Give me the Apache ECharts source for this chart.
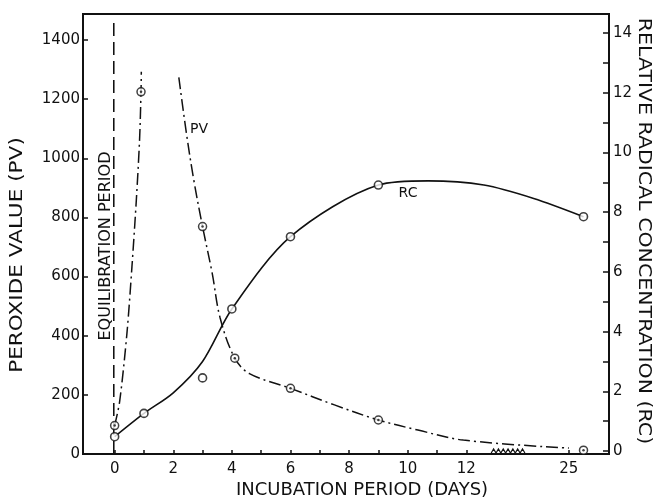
<!DOCTYPE html>
<html>
<head>
<meta charset="utf-8">
<script src="https://cdn.jsdelivr.net/npm/echarts@6/dist/echarts.min.js"></script>
<style>
  html, body { margin: 0; padding: 0; background: #fff; }
  #chart { width: 654px; height: 501px; }
</style>
</head>
<body>
<div id="chart"></div>
<script>
// Measured peroxide values (PV) and relative radical concentrations (RC)
const pvDays   = [0, 0.9, 3, 4.1, 6, 9, 25.5];
const pvValues = [96, 1225, 769, 324, 222, 115, 13];
const rcDays   = [0, 1, 3, 4, 6, 9, 25.5];
const rcValues = [0.48, 1.26, 2.45, 4.76, 7.18, 8.91, 7.85];

// Hand-drawn trend curves through the measurements
const pvRiseDays   = [0, 0.17, 0.42, 0.59, 0.74, 0.85, 0.9, 0.91];
const pvRiseValues = [96, 177, 409, 633, 859, 1062, 1225, 1293];
const pvFallDays   = [2.19, 2.45, 2.7, 3, 3.33, 3.6, 4.1, 4.6, 6, 7.5, 9, 10.35, 11.9, 25];
const pvFallValues = [1274, 1084, 927, 769, 611, 460, 324, 272, 222, 166, 115, 81, 47, 20];
const rcFitDays    = [0, 1, 2, 3, 4, 6, 9, 10.7, 12.6, 23.8, 25.5];
const rcFitValues  = [0.48, 1.26, 1.95, 3.0, 4.76, 7.18, 8.91, 9.05, 8.91, 8.46, 7.85];

// Equilibration period marker (day, PV range)
const equilDay = [-0.03, -0.03];
const equilPv  = [0, 1468];

// Axis ticks and labels
const xTickDays  = [0, 1, 2, 3, 4, 5, 6, 7, 8, 9, 10, 11, 12, 25];
const xLabelDays = [0, 2, 4, 6, 8, 10, 12, 25];
const pvTicks    = [0, 200, 400, 600, 800, 1000, 1200, 1400];
const rcTicks    = [0, 1, 2, 3, 4, 5, 6, 7, 8, 9, 10, 11, 12, 13, 14];
const rcLabels   = [0, 2, 4, 6, 8, 10, 12, 14];

// Broken time axis: days 12.85..23.5 are squeezed into a short gap
const BREAK_FROM = 12.85, BREAK_TO = 23.5, BREAK_GAP = 1.15;
function toAxis(day) {
  if (day <= BREAK_FROM) return day;
  if (day >= BREAK_TO) return day - (BREAK_TO - BREAK_FROM) + BREAK_GAP;
  return BREAK_FROM + (day - BREAK_FROM) / (BREAK_TO - BREAK_FROM) * BREAK_GAP;
}
const pairs = (xs, ys) => xs.map((d, i) => [toAxis(d), ys[i]]);

const FONT = 'DejaVu Sans';
const INK = '#111';
const dashDot = [12, 4, 2, 4];

const chart = echarts.init(document.getElementById('chart'), null, { renderer: 'canvas' });

const xLabelPos = xLabelDays.map(toAxis);

chart.setOption({
  animation: false,
  backgroundColor: '#fff',
  grid: { left: 83, right: 45, top: 14, bottom: 47, show: true, borderColor: INK, borderWidth: 2, backgroundColor: 'transparent' },
  xAxis: {
    type: 'value', min: -1.08, max: 16.87,
    splitLine: { show: false },
    axisLine: { show: true, onZero: false, lineStyle: { color: INK, width: 2 } },
    axisTick: { show: true, inside: true, length: 4, lineStyle: { color: INK, width: 1.5 },
                customValues: xTickDays.map(toAxis) },
    axisLabel: { show: true, color: INK, fontFamily: FONT, fontSize: 15, margin: 8,
                 customValues: xLabelPos,
                 formatter: v => {
                   const i = xLabelPos.findIndex(p => Math.abs(p - v) < 1e-6);
                   return i >= 0 ? String(xLabelDays[i]) : '';
                 } }
  },
  yAxis: [
    {
      type: 'value', min: 0, max: 1488, position: 'left',
      splitLine: { show: false },
      axisLine: { show: true, onZero: false, lineStyle: { color: INK, width: 2 } },
      axisTick: { show: true, inside: true, length: 5, lineStyle: { color: INK, width: 1.5 }, customValues: pvTicks },
      axisLabel: { show: true, color: INK, fontFamily: FONT, fontSize: 15, margin: 3,
                   padding: [0, 0, 10, 0], customValues: pvTicks, formatter: v => String(v) }
    },
    {
      type: 'value', min: -0.1, max: 14.64, position: 'right',
      splitLine: { show: false },
      axisLine: { show: true, onZero: false, lineStyle: { color: INK, width: 2 } },
      axisTick: { show: true, inside: true, length: 6, lineStyle: { color: INK, width: 1.5 }, customValues: rcTicks },
      axisLabel: { show: true, color: INK, fontFamily: FONT, fontSize: 15, margin: 4,
                   padding: [0, 0, 4, 0], customValues: rcLabels, formatter: v => String(v) }
    }
  ],
  series: [
    {
      name: 'equilibration', type: 'line', yAxisIndex: 0, z: 2,
      data: pairs(equilDay, equilPv), symbol: 'none',
      lineStyle: { color: INK, width: 1.6, type: [13, 6] }
    },
    {
      name: 'PV rise', type: 'line', yAxisIndex: 0, z: 2,
      data: pairs(pvRiseDays, pvRiseValues), symbol: 'none', smooth: 0.3,
      lineStyle: { color: INK, width: 1.5, type: dashDot }
    },
    {
      name: 'PV fall', type: 'line', yAxisIndex: 0, z: 2,
      data: pairs(pvFallDays, pvFallValues), symbol: 'none', smooth: 0.35,
      lineStyle: { color: INK, width: 1.5, type: dashDot }
    },
    {
      name: 'RC', type: 'line', yAxisIndex: 1, z: 2,
      data: pairs(rcFitDays, rcFitValues), symbol: 'none', smooth: 0.3,
      lineStyle: { color: INK, width: 1.6 }
    },
    {
      name: 'PV points', type: 'scatter', yAxisIndex: 0, z: 4,
      data: pairs(pvDays, pvValues), symbol: 'circle', symbolSize: 8,
      itemStyle: { color: '#fff', borderColor: INK, borderWidth: 1.5 }
    },
    {
      name: 'PV centres', type: 'scatter', yAxisIndex: 0, z: 5,
      data: pairs(pvDays, pvValues), symbol: 'circle', symbolSize: 2.5,
      itemStyle: { color: INK }
    },
    {
      name: 'RC points', type: 'scatter', yAxisIndex: 1, z: 4,
      data: pairs(rcDays, rcValues), symbol: 'circle', symbolSize: 8,
      itemStyle: { color: '#fff', borderColor: INK, borderWidth: 1.6 }
    },
    {
      // zigzag on the time axis marking the skipped days
      name: 'axis break', type: 'custom', yAxisIndex: 0, z: 6, silent: true,
      data: [[toAxis(BREAK_FROM), toAxis(BREAK_TO)]],
      renderItem: (params, api) => {
        const a = api.coord([api.value(0), 0]);
        const b = api.coord([api.value(1), 0]);
        const teeth = 7, amp = 4;
        const step = (b[0] - a[0]) / teeth;
        const pts = [[a[0], a[1] - 1]];
        for (let i = 0; i < teeth; i++) {
          pts.push([a[0] + step * (i + 0.5), a[1] - 1 - amp]);
          pts.push([a[0] + step * (i + 1), a[1] - 1]);
        }
        return { type: 'polyline', shape: { points: pts },
                 style: { stroke: INK, lineWidth: 1.2, fill: null } };
      }
    }
  ],
  graphic: [
    { type: 'text', x: 17.5, y: 255, rotation: Math.PI / 2, scaleX: 1.27,
      style: { text: 'PEROXIDE VALUE (PV)', font: '17px "DejaVu Sans"', fill: INK, align: 'center', verticalAlign: 'middle' } },
    { type: 'text', x: 644, y: 231, rotation: -Math.PI / 2, scaleX: 1.14,
      style: { text: 'RELATIVE RADICAL CONCENTRATION (RC)', font: '18px "DejaVu Sans"', fill: INK, align: 'center', verticalAlign: 'middle' } },
    { type: 'text', x: 362, y: 490,
      style: { text: 'INCUBATION PERIOD (DAYS)', font: '18px "DejaVu Sans"', fill: INK, align: 'center', verticalAlign: 'middle' } },
    { type: 'text', x: 106, y: 246, rotation: Math.PI / 2, scaleX: 1.07,
      style: { text: 'EQUILIBRATION PERIOD', font: '15px "DejaVu Sans"', fill: INK, align: 'center', verticalAlign: 'middle' } },
    { type: 'text', x: 199, y: 129,
      style: { text: 'PV', font: '14px "DejaVu Sans"', fill: INK, align: 'center', verticalAlign: 'middle' } },
    { type: 'text', x: 408, y: 193,
      style: { text: 'RC', font: '14px "DejaVu Sans"', fill: INK, align: 'center', verticalAlign: 'middle' } }
  ]
});
</script>
</body>
</html>
